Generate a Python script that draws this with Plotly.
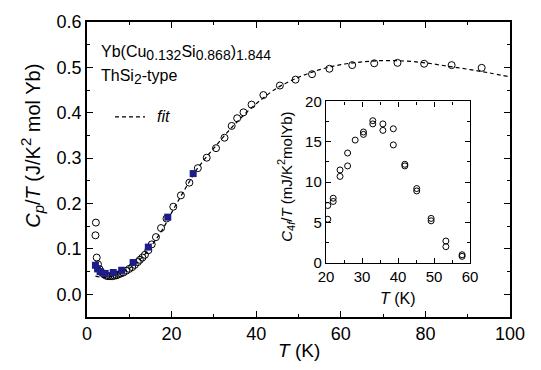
import plotly.graph_objects as go

# ---- main panel data (C_p/T in J/K^2 mol Yb) ----
t_open = [2.1, 2.0, 2.3, 2.6, 3.0, 3.5, 4.0, 4.5, 5.0, 5.5, 6.0, 6.5, 7.0, 7.5, 8.0, 8.6,
          9.3, 10.0, 10.7, 11.3, 12.0, 12.5, 13.1, 13.7, 14.5, 15.3, 16.3, 17.5, 18.8,
          20.4, 22.2, 24.2, 26.2, 28.3, 30.5, 32.5, 34.2, 35.5, 37.0, 38.9, 41.7, 45.6,
          49.3, 53.2, 57.3, 62.7, 67.9, 73.4, 79.7, 86.2, 93.3]
c_open = [0.158, 0.130, 0.081, 0.066, 0.055, 0.048, 0.044, 0.041, 0.040, 0.040, 0.040,
          0.041, 0.042, 0.044, 0.046, 0.048, 0.052, 0.056, 0.060, 0.065, 0.071, 0.076,
          0.081, 0.087, 0.097, 0.110, 0.126, 0.146, 0.167, 0.193, 0.218, 0.246, 0.278,
          0.301, 0.322, 0.345, 0.371, 0.388, 0.401, 0.418, 0.439, 0.460, 0.473, 0.485,
          0.497, 0.505, 0.509, 0.510, 0.508, 0.505, 0.499]

t_sq = [2.0, 2.5, 3.1, 4.3, 6.2, 8.2, 10.9, 14.5, 19.1, 25.1]
c_sq = [0.064, 0.056, 0.050, 0.046, 0.048, 0.053, 0.070, 0.104, 0.170, 0.266]

t_fit = [2, 4, 6, 8, 10, 12, 14, 16, 18, 20, 22, 24, 26, 28, 30, 33, 36, 40, 45, 50,
         55, 60, 65, 70, 75, 80, 85, 90, 95, 100]
c_fit = [0.040, 0.037, 0.040, 0.047, 0.057, 0.072, 0.092, 0.117, 0.145, 0.180, 0.213,
         0.245, 0.276, 0.300, 0.322, 0.355, 0.385, 0.420, 0.455, 0.478, 0.495, 0.506,
         0.512, 0.515, 0.514, 0.510, 0.503, 0.496, 0.488, 0.479]

# ---- inset data (C_4f/T in mJ/K^2 mol Yb) ----
t_in = [20.5, 20.5, 22.0, 22.0, 23.9, 23.9, 26.0, 26.0, 28.1, 30.4, 30.4, 33.0, 33.0,
        35.8, 35.8, 38.7, 38.7, 41.9, 41.9, 45.2, 45.2, 49.2, 49.2, 53.3, 53.3, 57.8, 57.8]
c_in = [5.4, 7.1, 7.6, 8.0, 10.7, 11.5, 12.0, 13.6, 15.2, 15.9, 16.2, 17.2, 17.6,
        16.4, 17.2, 14.6, 16.6, 12.0, 12.2, 8.9, 9.2, 5.2, 5.5, 2.0, 2.7, 0.8, 1.0]

FONT = "Liberation Sans, Arial, sans-serif"
L, R, T, B = 87, 31, 12, 53
W, H = 541, 370
PW, PH = W - L - R, H - T - B


def px(x):
    return (x - L) / PW


def py(y):
    return (H - B - y) / PH


def sub(s, size):
    return f'<sub><span style="font-size:{size}px">{s}</span></sub>'


def sup(s, size):
    return f'<sup><span style="font-size:{size}px">{s}</span></sup>'


fig = go.Figure()
fig.add_trace(go.Scatter(x=t_fit, y=c_fit, mode="lines", line=dict(color="black", width=1.2, dash="4px,3px"),
                         line_shape="spline", showlegend=False, hoverinfo="skip"))
fig.add_trace(go.Scatter(x=t_open, y=c_open, mode="markers",
                         marker=dict(symbol="circle-open", size=7, color="black", line=dict(width=1)),
                         showlegend=False))
fig.add_trace(go.Scatter(x=t_sq, y=c_sq, mode="markers",
                         marker=dict(symbol="square", size=7, color="#1c1c8a"),
                         showlegend=False))
fig.add_trace(go.Scatter(x=t_in, y=c_in, mode="markers", xaxis="x2", yaxis="y2",
                         marker=dict(symbol="circle-open", size=6, color="black", line=dict(width=1)),
                         showlegend=False))

axis_common = dict(showline=True, linecolor="black", linewidth=1.5, mirror="ticks",
                   ticks="inside", tickcolor="black", tickwidth=1.3, showgrid=False,
                   zeroline=False)

fig.update_layout(
    width=W, height=H,
    margin=dict(l=L, r=R, t=T, b=B),
    paper_bgcolor="white", plot_bgcolor="white",
    font=dict(family=FONT, color="black"),
    xaxis=dict(range=[0, 100], dtick=20, tick0=0, ticklen=6,
               minor=dict(dtick=10, ticklen=3.5, ticks="inside", tickcolor="black", tickwidth=1.3),
               tickfont=dict(size=18), domain=[0, 1], **axis_common),
    yaxis=dict(range=[-0.05, 0.6], dtick=0.1, tick0=0, tickformat=".1f", ticklen=6,
               minor=dict(dtick=0.05, ticklen=3.5, ticks="inside", tickcolor="black", tickwidth=1.3),
               tickfont=dict(size=18), domain=[0, 1], **axis_common),
    xaxis2=dict(range=[20, 60], dtick=10, tick0=20, ticklen=5, anchor="y2",
                domain=[px(326), px(470)],
                minor=dict(dtick=5, ticklen=3, ticks="inside", tickcolor="black", tickwidth=1.2),
                tickfont=dict(size=15), **{**axis_common, "linewidth": 1.4}),
    yaxis2=dict(range=[0, 20], dtick=5, tick0=0, ticklen=5, anchor="x2",
                domain=[py(261), py(94)],
                minor=dict(dtick=2.5, ticklen=3, ticks="inside", tickcolor="black", tickwidth=1.2),
                tickfont=dict(size=15), **{**axis_common, "linewidth": 1.4}),
)

ann = [
    dict(text="<i>C</i>" + sub("<i>p</i>", 15) + "/<i>T</i> (J/K" + sup("2", 15) + " mol Yb)",
         x=px(32), y=py(140), textangle=-90, font=dict(size=20)),
    dict(text="<i>T</i> (K)", x=px(299), y=py(352), font=dict(size=19)),
    dict(text="<i>C</i>" + sub("4<i>f</i>", 11) + "/<i>T</i> (mJ/K" + sup("2", 11) + "molYb)",
         x=px(286), y=py(172), textangle=-90, font=dict(size=15)),
    dict(text="<i>T</i> (K)", x=px(398), y=py(298), font=dict(size=16)),
    dict(text="Yb(Cu" + sub("0.132", 14) + "Si" + sub("0.868", 14) + ")" + sub("1.844", 14),
         x=px(99), y=py(44), xanchor="left", font=dict(size=16)),
    dict(text="ThSi" + sub("2", 14) + "-type", x=px(99), y=py(69), xanchor="left", font=dict(size=16)),
    dict(text="<i>fit</i>", x=px(155), y=py(110), xanchor="left", font=dict(size=16)),
]
for a in ann:
    a.setdefault("xanchor", "center")
    fig.add_annotation(xref="paper", yref="paper", showarrow=False, yanchor="middle", **a)

fig.add_shape(type="line", xref="paper", yref="paper", x0=px(115), x1=px(145), y0=py(110), y1=py(110),
              line=dict(color="black", width=1.2, dash="4px,3px"))

fig.write_html("out.html")
